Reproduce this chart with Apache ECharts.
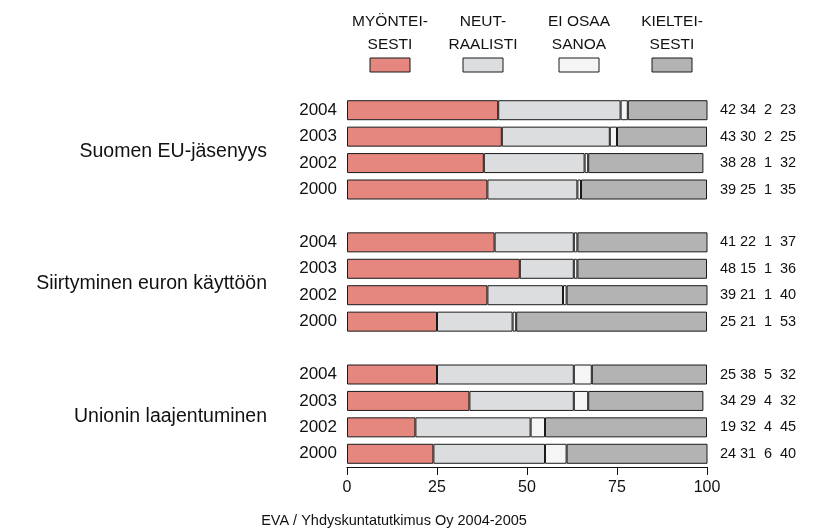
<!DOCTYPE html>
<html>
<head>
<meta charset="utf-8">
<script src="https://cdn.jsdelivr.net/npm/echarts@6/dist/echarts.min.js"></script>
<style>
  html, body { margin: 0; padding: 0; background: #ffffff; }
  #chart { width: 829px; height: 532px; }
</style>
</head>
<body>
<div id="chart"></div>
<script>
// Survey answers per topic and year, percent
const groups = ['Suomen EU-jäsenyys', 'Siirtyminen euron käyttöön', 'Unionin laajentuminen'];
const years = ['2004', '2003', '2002', '2000'];
const seriesNames = ['MYÖNTEI-\nSESTI', 'NEUT-\nRAALISTI', 'EI OSAA\nSANOA', 'KIELTEI-\nSESTI'];
const myonteisesti = [42, 43, 38, 39, 41, 48, 39, 25, 25, 34, 19, 24];
const neutraalisti = [34, 30, 28, 25, 22, 15, 21, 21, 38, 29, 32, 31];
const eiOsaaSanoa = [2, 2, 1, 1, 1, 1, 1, 1, 5, 4, 4, 6];
const kielteisesti = [23, 25, 32, 35, 37, 36, 40, 53, 32, 32, 45, 40];
const xTicks = [0, 25, 50, 75, 100];
const source = 'EVA / Yhdyskuntatutkimus Oy 2004-2005';

const colors = ['#e5877f', '#dcdddf', '#f4f5f4', '#b3b3b4'];
const font = '"Liberation Sans", Arial, Helvetica, sans-serif';
const ink = '#111111';

// Build row list: 4 years per group, with a blank spacer row between groups
const rows = [];       // category keys
const rowIndex = [];   // index into the value arrays, or -1 for spacer
groups.forEach((g, gi) => {
  if (gi > 0) { rows.push('gap' + gi); rowIndex.push(-1); }
  years.forEach((y, yi) => { rows.push(g + '|' + y); rowIndex.push(gi * years.length + yi); });
});
const valueSets = [myonteisesti, neutraalisti, eiOsaaSanoa, kielteisesti];
const rowData = arr => rowIndex.map(i => (i < 0 ? '-' : arr[i]));

const chart = echarts.init(document.getElementById('chart'), null, { renderer: 'canvas' });

const richCols = {};
['c0', 'c1', 'c2', 'c3'].forEach(k => {
  richCols[k] = { width: 20, align: 'center', fontSize: 14.5, color: ink, fontFamily: font };
});

const option = {
  backgroundColor: '#ffffff',
  animation: false,
  grid: { left: 347, right: 122, top: 97, bottom: 65, containLabel: false },
  xAxis: {
    type: 'value',
    min: xTicks[0],
    max: xTicks[xTicks.length - 1],
    interval: xTicks[1] - xTicks[0],
    axisLine: { show: true, lineStyle: { color: ink, width: 1 } },
    axisTick: { show: true, length: 8, lineStyle: { color: ink, width: 1 } },
    axisLabel: { color: ink, fontSize: 16, fontFamily: font, margin: 13 },
    splitLine: { show: false }
  },
  yAxis: [
    {
      type: 'category',
      data: rows,
      inverse: true,
      axisLine: { show: false },
      axisTick: { show: false },
      axisLabel: {
        color: ink, fontSize: 17, fontFamily: font, margin: 10,
        formatter: v => (v.indexOf('|') >= 0 ? v.split('|')[1] : '')
      }
    },
    {
      type: 'category',
      data: rows,
      inverse: true,
      position: 'right',
      axisLine: { show: false },
      axisTick: { show: false },
      axisLabel: {
        margin: 11,
        align: 'left',
        rich: richCols,
        formatter: (v, idx) => {
          const i = rowIndex[idx];
          if (i < 0) return '';
          return valueSets.map((arr, k) => '{c' + k + '|' + arr[i] + '}').join('');
        }
      }
    }
  ],
  series: valueSets.map((arr, k) => ({
    name: seriesNames[k],
    type: 'bar',
    stack: 'total',
    yAxisIndex: 0,
    barWidth: 20,
    clip: true,
    itemStyle: { color: colors[k], borderColor: '#1a1a1a', borderWidth: 1 },
    emphasis: { disabled: true },
    data: rowData(arr)
  }))
};
chart.setOption(option);

// Legend (labels above swatches) and group titles, placed through the chart's own scales
const legendCenters = [390, 483, 579, 672];
const graphics = [];
seriesNames.forEach((name, k) => {
  graphics.push({
    type: 'text',
    x: legendCenters[k], y: 33,
    style: {
      text: name, fill: ink, font: '15.5px ' + font,
      textAlign: 'center', textVerticalAlign: 'middle', lineHeight: 23
    }
  });
  graphics.push({
    type: 'rect',
    shape: { x: legendCenters[k] - 20, y: 58, width: 40, height: 14 },
    style: { fill: colors[k], stroke: '#1a1a1a', lineWidth: 1 }
  });
});
groups.forEach((g, gi) => {
  const first = chart.convertToPixel({ yAxisIndex: 0 }, g + '|' + years[0]);
  const last = chart.convertToPixel({ yAxisIndex: 0 }, g + '|' + years[years.length - 1]);
  graphics.push({
    type: 'text',
    x: 267, y: (first + last) / 2 + 2,
    style: {
      text: g, fill: ink, font: '19.5px ' + font,
      textAlign: 'right', textVerticalAlign: 'middle'
    }
  });
});
graphics.push({
  type: 'text',
  x: 394, y: 521,
  style: { text: source, fill: ink, font: '14.5px ' + font, textAlign: 'center', textVerticalAlign: 'middle' }
});
chart.setOption({ graphic: graphics });
</script>
</body>
</html>
